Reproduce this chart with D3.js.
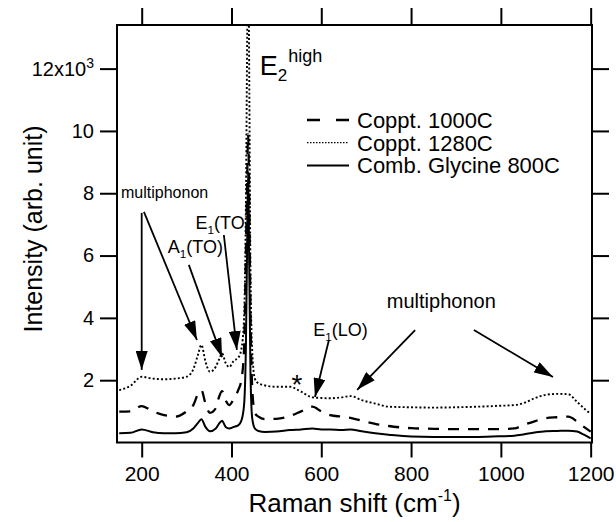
<!DOCTYPE html>
<html>
<head>
<meta charset="utf-8">
<script src="https://cdn.jsdelivr.net/npm/d3@7"></script>
<style>
  body { margin: 0; background: #fff; }
  svg { display: block; font-family: "Liberation Sans", Arial, sans-serif; }
</style>
</head>
<body>
<div id="wrapper"></div>
<script>
// Raman shift (cm-1), shared by the three spectra
const shift = [150, 175, 200, 225, 250, 275, 300, 315, 325, 333, 342, 352, 365, 372, 379, 387, 395, 405, 415, 422,
  428, 432, 435, 437, 439, 442, 446, 452, 460, 475, 500, 530, 555, 580, 600, 620, 645, 665, 690, 720,
  750, 800, 850, 900, 950, 1000, 1030, 1050, 1075, 1100, 1125, 1150, 1170, 1185, 1200];

// intensity, x10^3 arb. unit
const coppt1000 = [0.99, 1.0, 1.17, 1.0, 0.88, 0.83, 1.0, 1.2, 1.55, 1.68, 1.25, 0.95, 1.1, 1.45, 1.65, 1.35, 1.2, 1.4, 1.68, 2.0,
  3.0, 6.0, 8.5, 9.9, 8.5, 4.5, 1.8, 0.95, 0.83, 0.75, 0.76, 0.85, 1.0, 1.15, 1.0, 0.88, 0.83, 0.79, 0.7, 0.6,
  0.53, 0.46, 0.44, 0.43, 0.43, 0.43, 0.45, 0.56, 0.68, 0.78, 0.81, 0.83, 0.67, 0.5, 0.35];
const coppt1280 = [1.68, 1.82, 2.11, 2.05, 2.03, 2.05, 2.11, 2.35, 2.8, 3.13, 2.6, 2.27, 2.43, 2.65, 2.86, 2.55, 2.42, 2.62, 2.72, 3.0,
  4.0, 7.5, 13, 16, 13, 6, 3.0, 2.05, 1.9, 1.83, 1.79, 1.79, 1.63, 1.45, 1.43, 1.42, 1.45, 1.49, 1.36, 1.25,
  1.15, 1.13, 1.12, 1.13, 1.15, 1.18, 1.2, 1.26, 1.42, 1.53, 1.56, 1.55, 1.3, 1.1, 0.92];
const glycine800 = [0.3, 0.31, 0.42, 0.33, 0.3, 0.3, 0.33, 0.45, 0.62, 0.75, 0.5, 0.36, 0.45, 0.6, 0.7, 0.5, 0.45, 0.5, 0.55, 0.7,
  1.2, 3.0, 6.5, 8.7, 6.5, 2.5, 0.8, 0.45, 0.37, 0.34, 0.35, 0.4, 0.42, 0.45, 0.42, 0.42, 0.4, 0.42, 0.36, 0.3,
  0.25, 0.19, 0.18, 0.18, 0.18, 0.2, 0.22, 0.26, 0.32, 0.36, 0.37, 0.38, 0.35, 0.25, 0.13];

const seriesNames = ["Coppt. 1000C", "Coppt. 1280C", "Comb. Glycine 800C"];
const xTicks = [200, 400, 600, 800, 1000, 1200];
const yTicks = [2, 4, 6, 8, 10, 12];

// annotations in data units: [text, x, y, font size]
const labels = [
  ["multiphonon", 154, 7.85, 16],
  ["A|1|(TO)", 258, 6.08, 18],
  ["E|1|(TO)", 320, 6.85, 18],
  ["E|1|(LO)", 582, 3.42, 18],
  ["multiphonon", 746, 4.31, 20]
];
// arrows: [x0, y0, x1, y1] (tip at x1,y1)
const arrows = [
  [200, 7.37, 200, 2.33],
  [205, 7.40, 323, 3.29],
  [305, 5.70, 379, 2.74],
  [383, 6.66, 412, 2.97],
  [617, 3.29, 586, 1.46],
  [809, 3.61, 680, 1.69],
  [940, 3.61, 1116, 2.10]
];

const width = 616, height = 522;
const margin = { top: 25, right: 24, bottom: 79.5, left: 117 };

const svg = d3.select("#wrapper").append("svg")
  .attr("width", width)
  .attr("height", height);

const x = d3.scaleLinear().domain([145, 1203]).range([margin.left, width - margin.right]);
const y = d3.scaleLinear().domain([0, 13.4]).range([height - margin.bottom, margin.top]);

const defs = svg.append("defs");
defs.append("clipPath").attr("id", "plot")
  .append("rect")
  .attr("x", x.range()[0]).attr("y", y.range()[1])
  .attr("width", x.range()[1] - x.range()[0])
  .attr("height", y.range()[0] - y.range()[1]);

defs.append("marker")
  .attr("id", "head")
  .attr("markerUnits", "userSpaceOnUse")
  .attr("viewBox", "0 0 19 12")
  .attr("refX", 19).attr("refY", 6)
  .attr("markerWidth", 19).attr("markerHeight", 12)
  .attr("orient", "auto")
  .append("path")
  .attr("d", "M0,0 L19,6 L0,12 Z")
  .attr("fill", "black");

// spectra
const styles = [
  { data: coppt1000, dash: "11,9", w: 2.3 },
  { data: coppt1280, dash: "2,2.2", w: 1.9 },
  { data: glycine800, dash: null, w: 2 }
];
const line = d3.line()
  .x(d => x(d[0]))
  .y(d => y(d[1]))
  .curve(d3.curveMonotoneX);

svg.append("g").attr("clip-path", "url(#plot)")
  .selectAll("path")
  .data(styles)
  .join("path")
  .attr("d", s => line(shift.map((v, i) => [v, s.data[i]])))
  .attr("fill", "none")
  .attr("stroke", "black")
  .attr("stroke-width", s => s.w)
  .attr("stroke-dasharray", s => s.dash);

// axes
const axisBottomG = svg.append("g")
  .attr("transform", "translate(0," + y.range()[0] + ")")
  .call(d3.axisBottom(x).tickValues(xTicks).tickSize(15).tickSizeOuter(0).tickPadding(9).tickFormat(d3.format("d")));
const axisTopG = svg.append("g")
  .attr("transform", "translate(0," + y.range()[1] + ")")
  .call(d3.axisTop(x).tickValues(xTicks).tickSize(17).tickSizeOuter(0).tickFormat(""));
const axisLeftG = svg.append("g")
  .attr("transform", "translate(" + x.range()[0] + ",0)")
  .call(d3.axisLeft(y).tickValues(yTicks).tickSize(17).tickSizeOuter(0).tickPadding(6));
const axisRightG = svg.append("g")
  .attr("transform", "translate(" + x.range()[1] + ",0)")
  .call(d3.axisRight(y).tickValues(yTicks).tickSize(17).tickSizeOuter(0).tickFormat(""));

[axisBottomG, axisTopG, axisLeftG, axisRightG].forEach(g => {
  g.select(".domain").remove();
  g.selectAll("line").attr("stroke-width", 2);
  g.attr("font-size", null).attr("font-family", null);
  g.selectAll("text").attr("font-size", 20).attr("fill", "black");
});
axisBottomG.selectAll("text").attr("font-size", 21);

axisLeftG.selectAll(".tick text").filter(d => d === 12).each(function () {
  const t = d3.select(this).text("12x10");
  t.append("tspan").attr("font-size", 14).attr("dy", "-0.55em").text("3");
});

svg.append("rect")
  .attr("x", x.range()[0]).attr("y", y.range()[1])
  .attr("width", x.range()[1] - x.range()[0])
  .attr("height", y.range()[0] - y.range()[1])
  .attr("fill", "none")
  .attr("stroke", "black")
  .attr("stroke-width", 2);

// axis titles
const xt = svg.append("text")
  .attr("x", (x.range()[0] + x.range()[1]) / 2)
  .attr("y", 512)
  .attr("text-anchor", "middle")
  .attr("font-size", 26)
  .text("Raman shift (cm");
xt.append("tspan").attr("font-size", 16).attr("dy", -11).text("-1");
xt.append("tspan").attr("dy", 11).text(")");

svg.append("text")
  .attr("transform", "translate(42,229) rotate(-90)")
  .attr("text-anchor", "middle")
  .attr("font-size", 25)
  .text("Intensity (arb. unit)");

// legend
const legend = svg.append("g").attr("transform", "translate(307,120)");
styles.forEach((s, i) => {
  legend.append("line")
    .attr("x1", 0).attr("x2", 42)
    .attr("y1", i * 22.7).attr("y2", i * 22.7)
    .attr("stroke", "black")
    .attr("stroke-width", i === 1 ? 1.2 : s.w)
    .attr("stroke-dasharray", i === 0 ? "13,16" : (i === 1 ? "1.5,1.5" : null));
  legend.append("text")
    .attr("x", 50).attr("y", i * 22.7 + 8)
    .attr("font-size", 22)
    .text(seriesNames[i]);
});

// E2 high label
const e2 = svg.append("text")
  .attr("x", x(463)).attr("y", y(11.8))
  .attr("font-size", 27)
  .text("E");
e2.append("tspan").attr("font-size", 17).attr("dy", 6).text("2");
e2.append("tspan").attr("font-size", 18).attr("dy", -19).attr("dx", 1).text("high");

// peak labels with subscripts
labels.forEach(([txt, lx, ly, fs]) => {
  const parts = txt.split("|");
  const t = svg.append("text").attr("x", x(lx)).attr("y", y(ly)).attr("font-size", fs);
  t.append("tspan").text(parts[0]);
  if (parts.length > 1) {
    t.append("tspan").attr("font-size", fs * 0.65).attr("dy", 5).text(parts[1]);
    t.append("tspan").attr("dy", -5).text(parts[2]);
  }
});

svg.append("text")
  .attr("x", x(546)).attr("y", y(1.55))
  .attr("text-anchor", "middle")
  .attr("font-size", 28)
  .text("*");

svg.append("g")
  .selectAll("line")
  .data(arrows)
  .join("line")
  .attr("x1", d => x(d[0])).attr("y1", d => y(d[1]))
  .attr("x2", d => x(d[2])).attr("y2", d => y(d[3]))
  .attr("stroke", "black")
  .attr("stroke-width", 1.8)
  .attr("marker-end", "url(#head)");
</script>
</body>
</html>
